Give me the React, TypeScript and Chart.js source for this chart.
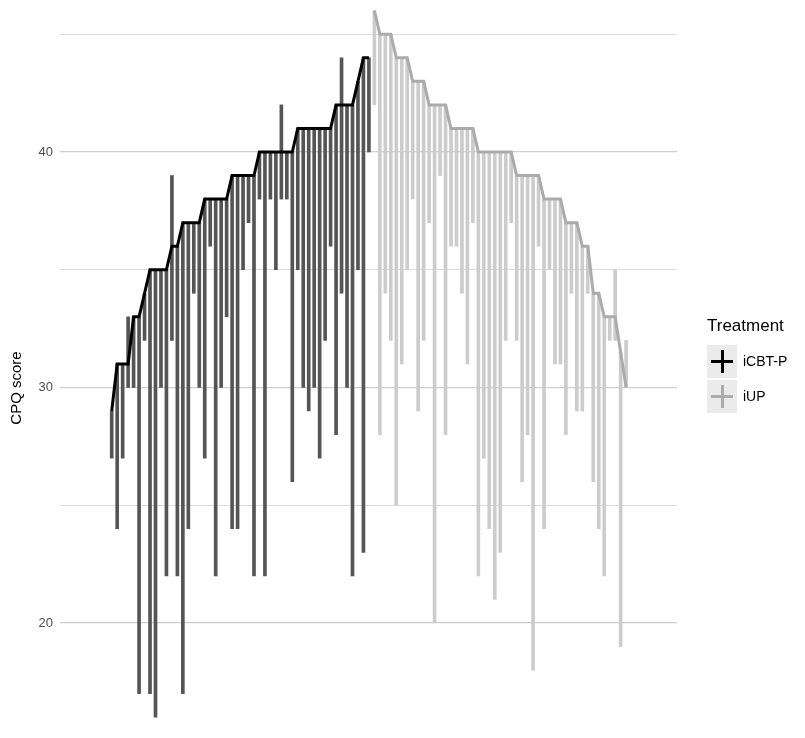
import React, { useEffect, useRef } from "react";
import { Chart, registerables } from "chart.js";

Chart.register(...registerables);

// Participants sorted by baseline CPQ score; each bar = range of scores over time
const icbtBaseline = [29, 31, 31, 31, 33, 33, 34, 35, 35, 35, 35, 36, 36, 37, 37, 37, 37, 38, 38, 38, 38, 38, 39, 39, 39, 39, 39, 40, 40, 40, 40, 40, 40, 40, 41, 41, 41, 41, 41, 41, 41, 42, 42, 42, 42, 43, 44, 44];
const icbtMin = [27, 24, 27, 30, 30, 17, 32, 17, 16, 30, 22, 32, 22, 17, 24, 34, 30, 27, 36, 22, 30, 33, 24, 24, 35, 37, 22, 38, 22, 38, 35, 38, 38, 26, 35, 30, 29, 30, 27, 32, 36, 28, 34, 30, 22, 35, 23, 40];
const icbtMax = [29, 31, 31, 33, 33, 33, 34, 35, 35, 35, 35, 39, 36, 37, 37, 37, 37, 38, 38, 38, 38, 38, 39, 39, 39, 39, 39, 40, 40, 40, 40, 42, 40, 40, 41, 41, 41, 41, 41, 41, 41, 42, 44, 42, 42, 43, 44, 44];

const iupBaseline = [46, 45, 45, 45, 44, 44, 44, 43, 43, 43, 42, 42, 42, 42, 41, 41, 41, 41, 41, 40, 40, 40, 40, 40, 40, 40, 39, 39, 39, 39, 39, 38, 38, 38, 38, 37, 37, 37, 36, 36, 34, 34, 33, 33, 33, 31.5, 30];
const iupMin = [42, 28, 34, 32, 25, 31, 35, 38, 29, 32, 37, 20, 39, 28, 36, 36, 34, 31, 37, 22, 27, 24, 21, 23, 32, 37, 32, 26, 28, 18, 36, 24, 35, 31, 31, 28, 34, 29, 29, 34, 26, 24, 22, 32, 32, 19, 30];
const iupMax = [46, 45, 45, 45, 44, 44, 44, 43, 43, 43, 42, 42, 42, 42, 41, 41, 41, 41, 41, 40, 40, 40, 40, 40, 40, 40, 39, 39, 39, 39, 39, 38, 38, 38, 38, 37, 37, 37, 36, 36, 34, 34, 33, 33, 35, 31.5, 32];

const yTickValues = [20, 25, 30, 35, 40, 45];
const yMajorTicks = [20, 30, 40];
const treatments = ["iCBT-P", "iUP"];
const lineColors = ["#000000", "#ababab"];
const barColors = ["#555555", "#cccccc"];

const FONT = "'Liberation Sans', Arial, Helvetica, sans-serif";

export default function App() {
  const canvasRef = useRef<HTMLCanvasElement>(null);

  useEffect(() => {
    const n1 = icbtBaseline.length;
    const icbtX = icbtBaseline.map((_, i) => i + 1);
    const iupX = iupBaseline.map((_, i) => n1 + i + 1);

    const chart = new Chart(canvasRef.current as HTMLCanvasElement, {
      type: "bar",
      data: {
        datasets: [
          {
            type: "line",
            label: treatments[0],
            data: icbtX.map((x, i) => ({ x, y: icbtBaseline[i] })),
            borderColor: lineColors[0],
            borderWidth: 3,
            pointRadius: 0,
            tension: 0,
            order: 0,
          } as any,
          {
            type: "line",
            label: treatments[1],
            data: iupX.map((x, i) => ({ x, y: iupBaseline[i] })),
            borderColor: lineColors[1],
            borderWidth: 3,
            pointRadius: 0,
            tension: 0,
            order: 0,
          } as any,
          {
            type: "bar",
            label: treatments[0] + " range",
            data: icbtX.map((x, i) => ({ x, y: [icbtMin[i], icbtMax[i]] })),
            backgroundColor: barColors[0],
            barThickness: 3,
            grouped: false,
            order: 1,
          } as any,
          {
            type: "bar",
            label: treatments[1] + " range",
            data: iupX.map((x, i) => ({ x, y: [iupMin[i], iupMax[i]] })),
            backgroundColor: barColors[1],
            barThickness: 3,
            grouped: false,
            order: 2,
          } as any,
        ],
      },
      options: {
        animation: false,
        responsive: false,
        maintainAspectRatio: false,
        layout: { padding: { left: 0, right: 128, top: 0, bottom: 0 } },
        plugins: { legend: { display: false }, tooltip: { enabled: false } },
        scales: {
          x: {
            type: "linear",
            min: -8.45,
            max: 104.3,
            display: false,
            offset: false,
          },
          y: {
            type: "linear",
            min: 13.503,
            max: 46.454,
            afterBuildTicks: (scale: any) => {
              scale.ticks = yTickValues.map((v) => ({ value: v }));
            },
            afterFit: (scale: any) => {
              scale.width = 60;
              scale.paddingTop = 0;
              scale.paddingBottom = 0;
            },
            border: { display: false },
            grid: {
              drawTicks: false,
              color: (ctx: any) =>
                yMajorTicks.includes(ctx.tick?.value) ? "#cfcfcf" : "#dcdcdc",
              lineWidth: (ctx: any) =>
                yMajorTicks.includes(ctx.tick?.value) ? 1.3 : 1,
            },
            ticks: {
              padding: 7,
              color: "#4d4d4d",
              font: { family: FONT, size: 13 },
              callback: (v: any) => (yMajorTicks.includes(Number(v)) ? String(v) : ""),
            },
            title: {
              display: true,
              text: "CPQ score",
              color: "#000000",
              font: { family: FONT, size: 15 },
              padding: { top: 8, bottom: 0 },
            },
          },
        },
      },
    });
    return () => chart.destroy();
  }, []);

  return (
    <div
      style={{
        position: "fixed",
        top: 0,
        left: 0,
        width: 805,
        height: 738,
        overflow: "hidden",
        background: "#ffffff",
        fontFamily: FONT,
      }}
    >
      <canvas ref={canvasRef} width={805} height={776} style={{ display: "block" }} />
      <div style={{ position: "absolute", left: 707, top: 316, fontSize: 17, color: "#000" }}>
        Treatment
      </div>
      {treatments.map((t, k) => (
        <div key={t} style={{ position: "absolute", left: 707, top: 345 + k * 35, height: 33 }}>
          <div
            style={{
              position: "absolute",
              left: 0,
              top: 0,
              width: 30,
              height: 33,
              background: "#ebebeb",
            }}
          >
            <div
              style={{
                position: "absolute",
                left: 14,
                top: 5,
                width: 2.6,
                height: 23,
                background: k === 0 ? "#000" : "#ababab",
              }}
            />
            <div
              style={{
                position: "absolute",
                left: 4,
                top: 15.2,
                width: 22,
                height: 2.6,
                background: k === 0 ? "#000" : "#ababab",
              }}
            />
          </div>
          <div
            style={{
              position: "absolute",
              left: 36,
              top: 8,
              fontSize: 14,
              whiteSpace: "nowrap",
              color: "#000",
            }}
          >
            {t}
          </div>
        </div>
      ))}
    </div>
  );
}
